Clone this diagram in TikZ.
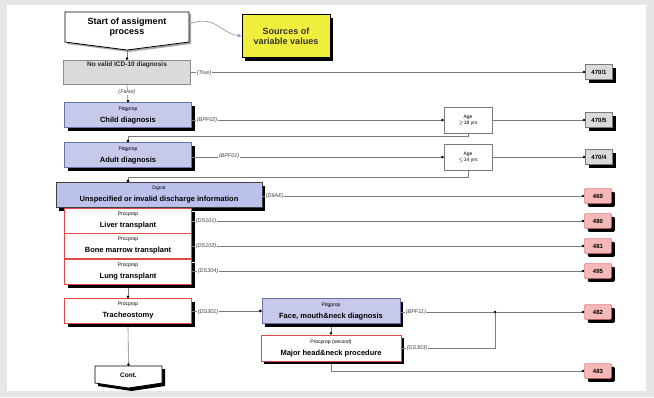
\documentclass[tikz,border=0pt]{standalone}
\usepackage{fontspec}
\setmainfont{Liberation Sans}
\usetikzlibrary{shadows,arrows.meta}
\definecolor{bggray}{HTML}{E6E6E6}
\definecolor{linegray}{HTML}{7A7A7A}
\definecolor{pdgblue}{HTML}{C6C9EA}
\definecolor{unspblue}{HTML}{BCC1EC}
\definecolor{pdgedge}{HTML}{6A70A8}
\definecolor{procred}{HTML}{E04848}
\definecolor{termred}{HTML}{F5B8B8}
\definecolor{termredge}{HTML}{C83030}
\definecolor{termgray}{HTML}{DADADA}
\definecolor{srcyellow}{HTML}{F0EE3C}
\definecolor{curveblue}{HTML}{8C94C8}
\newcommand\smalltxt[1]{{\fontsize{5}{5.5}\selectfont #1}}
\newcommand\bigtxt[1]{{\fontsize{7.5}{8.5}\selectfont\bfseries #1}}
\begin{document}
\begin{tikzpicture}[x=1pt,y=-1pt,
  blackshadow/.style={preaction={fill=black, draw=none, transform canvas={xshift=3.3pt, yshift=-3.3pt}}},
  base/.style={rectangle, draw, align=center, inner sep=1pt, minimum width=127, minimum height=25},
  pdg/.style={base, fill=pdgblue, draw=pdgedge, line width=0.6pt, blackshadow},
  proc/.style={base, fill=white, draw=procred, line width=0.9pt, blackshadow},
  agebox/.style={rectangle, draw=linegray, fill=white, minimum width=48, minimum height=26, align=center, inner sep=0.5pt, font=\fontsize{5}{6}\selectfont},
  term/.style={rectangle, draw, minimum width=27, minimum height=15, inner sep=0pt, font=\fontsize{6}{6}\selectfont\bfseries, blackshadow},
  tgray/.style={term, fill=termgray, draw=linegray},
  tred/.style={term, fill=termred, draw=termredge, rounded corners=1.2pt},
  conn/.style={draw=linegray, line width=0.6pt, -{Circle[length=2.6pt,width=2.6pt,color=black]}},
  plain/.style={draw=linegray, line width=0.6pt},
  lbl/.style={fill=white, inner sep=0.6pt, font=\fontsize{5.5}{6}\selectfont\itshape, text=black!75}
]
\useasboundingbox (0,0) rectangle (654,397);
\fill[bggray] (0,0) rectangle (654,397);
\fill[white] (7,5) rectangle (646,391);

% start box
\fill[black!35] (67,14) -- (191,14) -- (191,44) -- (129,52) -- (67,44) -- cycle;
\draw[fill=white, line width=0.8pt] (65,12) -- (189,12) -- (189,42) -- (127,50) -- (65,42) -- cycle;
\node[align=center, font=\fontsize{9}{10}\selectfont\bfseries] (start) at (127,27) {Start of assigment\\process};
\coordinate (starttip) at (127,50);

% sources
\node[rectangle, draw=black, fill=srcyellow, minimum width=88, minimum height=43, align=center,
      font=\fontsize{9}{10}\selectfont\bfseries, blackshadow, text=black!80] (src) at (286,36) {Sources of\\variable values};
\draw[draw=black!35, line width=0.8pt, -{Latex[length=4pt,width=4pt,color=curveblue]}] (189,24) .. controls (215,14) and (220,33) .. (src.west);

% no valid
\node[base, fill=termgray, draw=black!45, minimum height=24,
      label={[anchor=north, inner sep=2pt, font=\fontsize{6.5}{7}\selectfont\bfseries, text=black!85]north:No valid ICD-10 diagnosis}] (novalid) at (127,72) {};

% child / adult
\node[pdg] (child) at (128,115) {\smalltxt{Pdgprop}\\\bigtxt{Child diagnosis}};
\node[pdg] (adult) at (128,155) {\smalltxt{Pdgprop}\\\bigtxt{Adult diagnosis}};
\node[agebox] (age1) at (468,120) {Age\\$\geq$18 yrs};
\node[agebox] (age2) at (468,157) {Age\\$\leq$14 yrs};

% unspecified
\node[pdg, minimum width=206, fill=unspblue, draw=black!75] (unsp) at (159,195) {\smalltxt{Dgcat}\\\bigtxt{Unspecified or invalid discharge information}};

% transplants
\node[proc] (liver) at (128,221) {\smalltxt{Procprop}\\\bigtxt{Liver transplant}};
\node[proc] (bone) at (128,246) {\smalltxt{Procprop}\\\bigtxt{Bone marrow transplant}};
\node[proc] (lung) at (128,272) {\smalltxt{Procprop}\\\bigtxt{Lung transplant}};
\node[proc] (trach) at (128,311) {\smalltxt{Procprop}\\\bigtxt{Tracheostomy}};

\node[pdg, minimum width=138] (face) at (331,311) {\smalltxt{Pdgprop}\\\bigtxt{Face, mouth\&neck diagnosis}};
\node[proc, minimum width=140, minimum height=26] (major) at (331,348) {\smalltxt{Procprop (second)}\\\bigtxt{Major head\&neck procedure}};

% cont
\fill[black] (98,369) -- (165,369) -- (165,386) -- (131.5,391) -- (98,386) -- cycle;
\draw[fill=white, line width=0.8pt] (95,366) -- (162,366) -- (162,383) -- (128.5,388) -- (95,383) -- cycle;
\node[font=\fontsize{6.5}{7}\selectfont\bfseries] (cont) at (128.5,375) {Cont.};
\coordinate (conttop) at (128.5,366);

% terminals
\node[tgray] (t1) at (599,72) {470/1};
\node[tgray] (t2) at (599,120) {470/5};
\node[tgray] (t3) at (599,157) {470/4};
\node[tred] (r469) at (598,196) {469};
\node[tred] (r480) at (598,221) {480};
\node[tred] (r481) at (598,246) {481};
\node[tred] (r495) at (598,271) {495};
\node[tred] (r482) at (598,312) {482};
\node[tred] (r483) at (598,371) {483};

% connectors
\draw[conn] (starttip) -- (novalid.north);
\draw[conn] (novalid.east |- t1.west) -- (t1.west);
\draw[conn] (novalid.south) -- (child.north);
\draw[conn] (child.east |- age1.west) -- (age1.west);
\draw[conn] (age1.east) -- (t2.west);
\draw[conn] (age1.south) -- ++(0,3) -| (adult.north);
\draw[conn] (adult.east |- age2.west) -- (age2.west);
\draw[conn] (age2.east) -- (t3.west);
\draw[conn] (age2.south) -- ++(0,7) -| ([xshift=-31pt]unsp.north);
\draw[conn] (unsp.east |- r469.west) -- (r469.west);
\draw[conn] (liver.east |- r480.west) -- (r480.west);
\draw[conn] (bone.east |- r481.west) -- (r481.west);
\draw[conn] (lung.east |- r495.west) -- (r495.west);
\draw[conn] ([yshift=-3pt]lung.south) -- (trach.north);
\draw[conn] (trach.east |- face.west) -- (face.west);
\coordinate (jn) at (495,312);
\draw[conn] (face.east |- r482.west) -- (r482.west);
\draw[plain] (major.east) -| (jn);
\fill[black] (jn) circle (1.4pt);
\draw[conn] ([yshift=-3pt]face.south) -- (major.north);
\draw[conn] ([yshift=-3pt]trach.south) -- (conttop);
\draw[conn] ([yshift=-3pt]major.south) |- (r483.west);

% labels
\node[lbl, anchor=west] (ltrue) at (196,73) {(True)};
\node[lbl] (lfalse) at (127,92) {(False)};
\node[lbl, anchor=west] (lchild) at (196,120) {(BPF02)};
\node[lbl, anchor=west] (ladult) at (218,156) {(BPF01)};
\node[lbl, anchor=west] (lunsp) at (265,196) {(D9AE)};
\node[lbl, anchor=west] (lliver) at (195,221) {(DS101)};
\node[lbl, anchor=west] (lbone) at (195,246) {(DS102)};
\node[lbl, anchor=west] (llung) at (197,271) {(DS304)};
\node[lbl, anchor=west] (ltrach) at (197,312) {(DS301)};
\node[lbl, anchor=west] (lface) at (405,312) {(BPF11)};
\node[lbl, anchor=west] (lmajor) at (406,348) {(DS303)};
\end{tikzpicture}
\end{document}
